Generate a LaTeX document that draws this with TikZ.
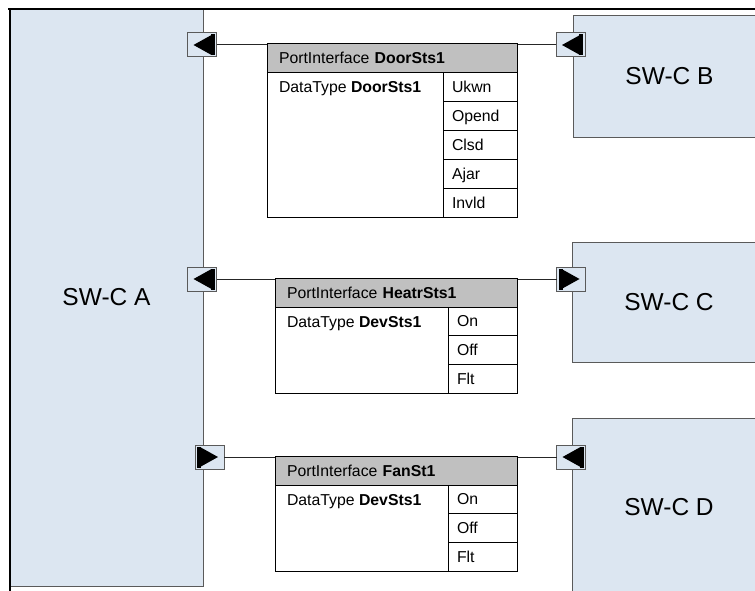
\documentclass[tikz,border=0pt]{standalone}
\usepackage{fontspec}
\setmainfont{Liberation Sans}
\definecolor{swcblue}{RGB}{220,230,241}
\definecolor{hdrgray}{RGB}{192,192,192}
\definecolor{swcedge}{RGB}{90,90,90}
\tikzset{
  swc/.style={draw=swcedge, fill=swcblue, line width=1bp, anchor=north west,
    outer sep=0pt, inner sep=0pt, font=\fontsize{24.5bp}{28bp}\selectfont},
  port/.style={draw=swcedge, fill=swcblue, line width=1bp, minimum width=29bp,
    minimum height=24bp, inner sep=0pt, outer sep=0pt},
  portleft/.style={port, path picture={
    \fill[black] ([xshift=6bp]path picture bounding box.west)
      -- ([xshift=-5bp,yshift=-2bp]path picture bounding box.north east)
      -- ([xshift=-5bp,yshift=2bp]path picture bounding box.south east) -- cycle;
    \fill[black] ([xshift=-6bp,yshift=-1.5bp]path picture bounding box.north east)
      rectangle ([xshift=-2bp,yshift=1.5bp]path picture bounding box.south east);}},
  portright/.style={port, path picture={
    \fill[black] ([xshift=-6bp]path picture bounding box.east)
      -- ([xshift=5bp,yshift=-2bp]path picture bounding box.north west)
      -- ([xshift=5bp,yshift=2bp]path picture bounding box.south west) -- cycle;
    \fill[black] ([xshift=6bp,yshift=-1.5bp]path picture bounding box.north west)
      rectangle ([xshift=2bp,yshift=1.5bp]path picture bounding box.south west);}},
  tbl/.style={draw=black, line width=1bp, anchor=north west, outer sep=0pt,
    inner xsep=12bp, inner ysep=0pt, minimum height=29bp, text height=11bp,
    text depth=0pt, align=left, font=\fontsize{15.8bp}{18bp}\selectfont},
  hdr/.style={tbl, fill=hdrgray, text width=#1},
  body/.style={draw=black, fill=white, line width=1bp, anchor=north west,
    outer sep=0pt, inner sep=0pt},
  bodytxt/.style={tbl, draw=none},
  val/.style={tbl, fill=white, inner xsep=9bp, minimum height=28.8bp, text width=#1},
  wire/.style={draw=black!85, line width=1bp}
}
\begin{document}
\begin{tikzpicture}[x=1bp,y=-1bp]
\useasboundingbox (0,0) rectangle (755,591);
\clip (0,0) rectangle (755,591);

% software components
\node[swc, minimum width=193bp, minimum height=577bp] (swca) at (10,9) {SW-C A};
\node[swc, minimum width=193bp, minimum height=121bp] (swcb) at (573,16) {SW-C B};
\node[swc, minimum width=194bp, minimum height=120bp] (swcc) at (572,242) {SW-C C};
\node[swc, minimum width=194bp, minimum height=179bp] (swcd) at (572,418) {SW-C D};

% ports
\node[portleft] (pa1) at (202,45) {};
\node[portleft] (pb) at (570.5,45) {};
\node[portleft] (pa2) at (202,279) {};
\node[portright] (pc) at (571,279) {};
\node[portright] (pa3) at (209.5,457) {};
\node[portleft] (pd) at (571,457) {};

\draw[wire] (pa1.east) -- (pb.west);
\draw[wire] (pa2.east) -- (pc.west);
\draw[wire] (pa3.east) -- (pd.west);

% DoorSts1
\node[hdr=226bp] (hdoor) at (267,44) {PortInterface \textbf{DoorSts1}};
\node[body, minimum width=176bp, minimum height=144bp] (bdoor) at (267,73) {};
\node[bodytxt] (tdoor) at (bdoor.north west) {DataType \textbf{DoorSts1}};
\foreach \v [count=\i] in {Ukwn,Opend,Clsd,Ajar,Invld}
  \node[val=56bp] (vdoor\i) at (443,{73+(\i-1)*28.8}) {\v};

% HeatrSts1
\node[hdr=218bp] (hheat) at (275,278) {PortInterface \textbf{HeatrSts1}};
\node[body, minimum width=173bp, minimum height=86.4bp] (bheat) at (275,307) {};
\node[bodytxt] (theat) at (bheat.north west) {DataType \textbf{DevSts1}};
\foreach \v [count=\i] in {On,Off,Flt}
  \node[val=51bp] (vheat\i) at (448,{307+(\i-1)*28.8}) {\v};

% FanSt1
\node[hdr=218bp] (hfan) at (275,456) {PortInterface \textbf{FanSt1}};
\node[body, minimum width=173bp, minimum height=86.4bp] (bfan) at (275,485) {};
\node[bodytxt] (tfan) at (bfan.north west) {DataType \textbf{DevSts1}};
\foreach \v [count=\i] in {On,Off,Flt}
  \node[val=51bp] (vfan\i) at (448,{485+(\i-1)*28.8}) {\v};

% frame
\draw[line width=2bp] (8,9) -- (755,9);
\draw[line width=2bp] (10,9) -- (10,591);
\end{tikzpicture}
\end{document}
